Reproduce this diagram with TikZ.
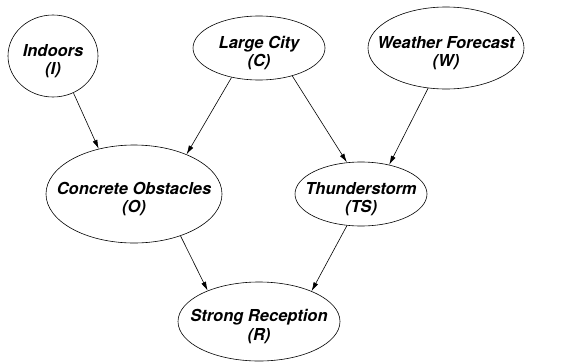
\documentclass[tikz,border=0pt]{standalone}
\usepackage{fontspec}
\setmainfont{TeX Gyre Heros}
\usepackage{tikz}
\usetikzlibrary{arrows.meta,shapes.geometric}

\begin{document}
\begin{tikzpicture}[x=1pt,y=-1pt,
  bnode/.style={ellipse,draw,line width=0.6pt,align=center,inner xsep=-16pt,inner ysep=0pt,
    text height=41pt,text depth=4pt,
    font=\fontsize{16.5}{18.5}\selectfont\bfseries\itshape},
  dep/.style={-{Latex[length=9pt,width=5pt]},line width=0.6pt}]
\useasboundingbox (0,0) rectangle (576,362);
\node[bnode,minimum width=90pt,minimum height=82pt] (I) at (53,56){Indoors\\(I)};
\node[bnode,minimum width=132pt,minimum height=64pt] (C) at (259,48){Large City\\(C)};
\node[bnode,minimum width=156pt,minimum height=82pt] (W) at (446,48){Weather Forecast\\(W)};
\node[bnode,minimum width=176pt,minimum height=98pt] (O) at (134,194){Concrete Obstacles\\(O)};
\node[bnode,minimum width=132pt,minimum height=64pt] (TS) at (361,194){Thunderstorm\\(TS)};
\node[bnode,minimum width=162pt,minimum height=79pt] (R) at (259,321.5){Strong Reception\\(R)};
\draw[dep] (I.-61) -- (O.128);
\draw[dep] (C.-133) -- (O.37);
\draw[dep] (C.-40) -- (TS.114);
\draw[dep] (W.-114) -- (TS.46);
\draw[dep] (O.-42) -- (R.149);
\draw[dep] (TS.-114) -- (R.30);
\end{tikzpicture}
\end{document}
